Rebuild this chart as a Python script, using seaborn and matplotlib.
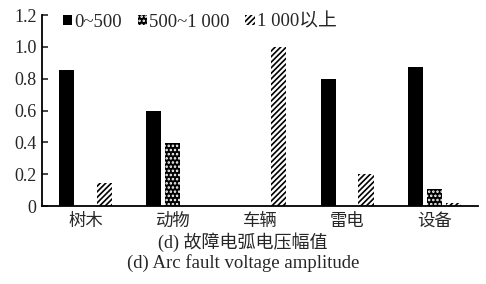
import pandas as pd
import matplotlib
matplotlib.use("Agg")
import matplotlib.pyplot as plt
import seaborn as sns
from matplotlib.patches import Patch

categories = ["树木", "动物", "车辆", "雷电", "设备"]
series_names = ["0~500", "500~1 000", "1 000以上"]
v_low = [0.855, 0.60, 0.0, 0.80, 0.875]
v_mid = [0.0, 0.395, 0.0, 0.0, 0.105]
v_high = [0.145, 0.0, 1.0, 0.20, 0.02]
y_ticks = [0, 0.2, 0.4, 0.6, 0.8, 1.0, 1.2]
y_tick_labels = ["0", "0.2", "0.4", "0.6", "0.8", "1.0", "1.2"]

sns.set_style("ticks")
plt.rcParams["font.family"] = ["Liberation Serif", "Noto Sans CJK SC"]
plt.rcParams["hatch.linewidth"] = 1.2

df = pd.DataFrame({
    "cat": categories * 3,
    "series": [series_names[0]] * 5 + [series_names[1]] * 5 + [series_names[2]] * 5,
    "value": v_low + v_mid + v_high,
})

fig = plt.figure(figsize=(4.86, 2.84), dpi=100)
ax = fig.add_axes([0.0864, 0.2746, 0.897, 0.6725])

sns.barplot(data=df, x="cat", y="value", hue="series", order=categories,
            hue_order=series_names, width=0.65, gap=0.2, errorbar=None,
            legend=False, ax=ax)

styles = [
    dict(face="black", edge="black", hatch=None),
    dict(face="black", edge="white", hatch="...."),
    dict(face="white", edge="black", hatch="//////"),
]
for cont, st in zip(ax.containers, styles):
    for bar in cont:
        bar.set_facecolor(st["face"])
        bar.set_edgecolor(st["edge"])
        bar.set_linewidth(0)
        if st["hatch"]:
            bar.set_hatch(st["hatch"])

ax.set_xlim(-0.5, 4.5)
ax.set_ylim(0, 1.2)
ax.set_yticks(y_ticks)
ax.set_yticklabels(y_tick_labels)
ax.set_xlabel("")
ax.set_ylabel("")
ax.tick_params(axis="y", direction="in", length=4.5, width=1.2, labelsize=13, pad=4)
ax.tick_params(axis="x", length=0, labelsize=13, pad=4)
for lab in ax.get_xticklabels():
    lab.set_family(["Noto Sans CJK SC"])
    lab.set_fontsize(12.5)
sns.despine(ax=ax)
for s in ["left", "bottom"]:
    ax.spines[s].set_linewidth(1.3)
    ax.spines[s].set_color("black")

handles = []
for name, st in zip(series_names, styles):
    h = Patch(facecolor=st["face"], edgecolor=st["edge"], hatch=st["hatch"], linewidth=0, label=name)
    handles.append(h)
ax.legend(handles=handles, loc="center left", bbox_to_anchor=(0.048, 0.963), ncol=3,
          frameon=False, fontsize=13.5, handlelength=0.5, handleheight=0.5,
          handletextpad=0.1, columnspacing=0.85, borderaxespad=0, borderpad=0)

fig.text(0.5, 0.148, "(d) 故障电弧电压幅值", ha="center", va="center", fontsize=13)
fig.text(0.5, 0.075, "(d) Arc fault voltage amplitude", ha="center", va="center", fontsize=13.5)

fig.savefig("out.png", dpi=100)
